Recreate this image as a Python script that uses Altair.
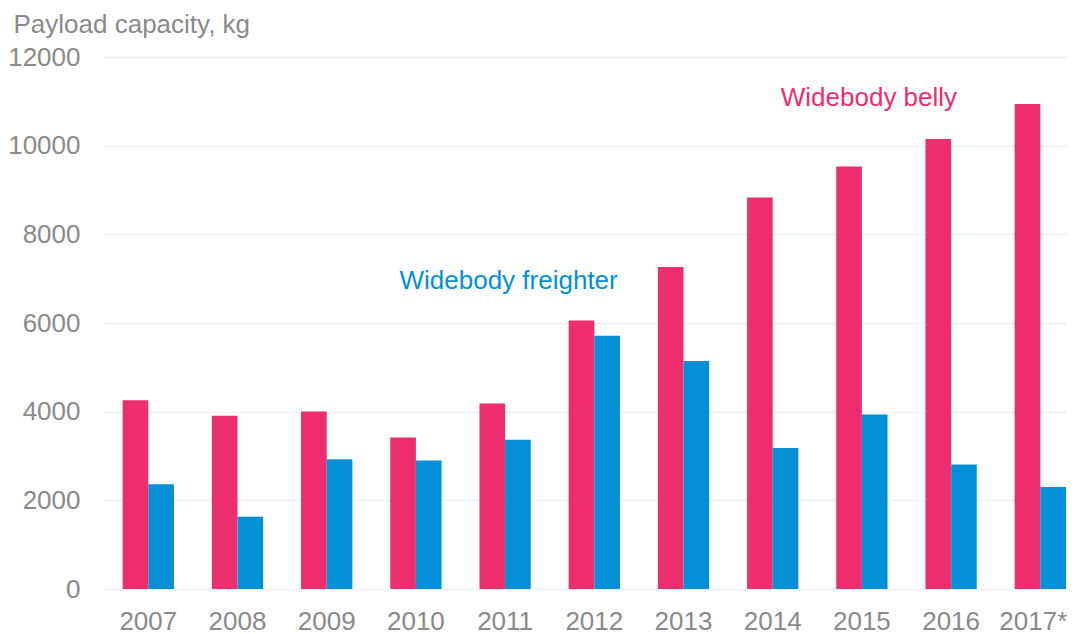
import altair as alt
import pandas as pd

years = ["2007", "2008", "2009", "2010", "2011", "2012", "2013", "2014", "2015", "2016", "2017*"]
belly = [4260, 3910, 4005, 3420, 4185, 6055, 7265, 8830, 9530, 10150, 10940]
freighter = [2360, 1630, 2925, 2900, 3365, 5710, 5145, 3180, 3935, 2810, 2300]
series = ["Widebody belly", "Widebody freighter"]
colors = ["#EE2D6F", "#0390D6"]
y_ticks = [0, 2000, 4000, 6000, 8000, 10000, 12000]

label_text = ["Widebody belly", "Widebody freighter"]
label_year = ["2015", "2011"]
label_value = [10888, 6756]
label_dx = [7, 3.5]

rows = []
for i, yr in enumerate(years):
    rows.append({"year": yr, "series": series[0], "value": belly[i]})
    rows.append({"year": yr, "series": series[1], "value": freighter[i]})
df = pd.DataFrame(rows)

FONT = "Liberation Sans"
GRAY = "#8a8a8a"

x_enc = alt.X(
    "year:N",
    sort=years,
    scale=alt.Scale(paddingInner=0.425, paddingOuter=0.116, align=0.95, round=False),
    axis=alt.Axis(
        title=None, labelAngle=0, domain=False, ticks=False,
        labelFont=FONT, labelFontSize=26, labelColor=GRAY, labelPadding=19,
        labelOverlap=False, labelBound=False,
        labelOffset=alt.condition("datum.value === '2017*'", alt.value(-7), alt.value(0)),
    ),
)
y_enc = alt.Y(
    "value:Q",
    scale=alt.Scale(domain=[0, 12000], nice=False),
    axis=alt.Axis(
        values=y_ticks, format="d", domain=False, ticks=False,
        grid=True, gridColor="#edf1f6", gridWidth=1.5,
        labelFont=FONT, labelFontSize=26, labelColor=GRAY, labelPadding=23,
        title="Payload capacity, kg", titleAngle=0, titleX=-90, titleY=-25,
        titleAlign="left", titleBaseline="alphabetic", titleFont=FONT,
        titleFontSize=26, titleFontWeight="normal", titleColor=GRAY,
    ),
)

bars = alt.Chart(df).mark_bar().encode(
    x=x_enc,
    xOffset=alt.XOffset("series:N", sort=series, scale=alt.Scale(paddingInner=0, paddingOuter=0)),
    y=y_enc,
    color=alt.Color("series:N", scale=alt.Scale(domain=series, range=colors), legend=None),
)

layers = [bars]
for i in range(len(label_text)):
    ldf = pd.DataFrame({"year": [label_year[i]], "value": [label_value[i]], "label": [label_text[i]]})
    t = alt.Chart(ldf).mark_text(
        font=FONT, fontSize=26, color=colors[i], dx=label_dx[i], baseline="alphabetic", align="center"
    ).encode(
        x=alt.X("year:N", sort=years),
        y=alt.Y("value:Q"),
        text="label:N",
    )
    layers.append(t)

chart = alt.layer(*layers).properties(
    width=964,
    height=532,
    autosize=alt.AutoSizeParams(type="none"),
    padding={"left": 95, "top": 49, "right": 0, "bottom": 45},
).configure_view(stroke=None)

chart.save("out.html", embed_options={"renderer": "svg", "actions": False})
